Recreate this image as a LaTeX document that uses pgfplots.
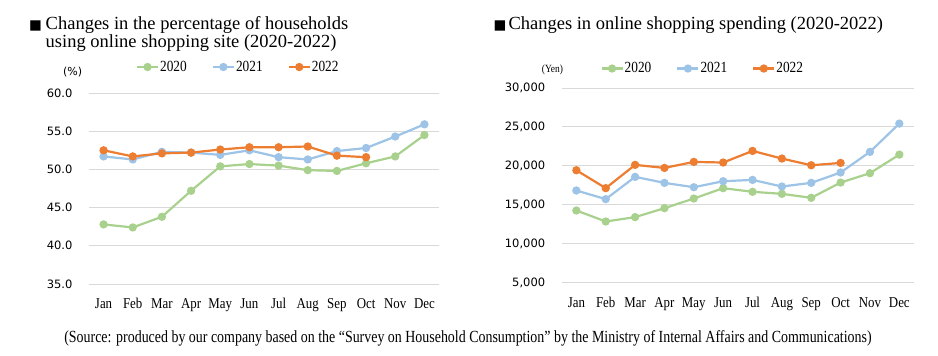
\documentclass[border=0pt]{standalone}
\usepackage{pgfplots}
\pgfplotsset{compat=1.18}
\usepackage{fontspec}
\setmainfont{Liberation Serif}
\newfontfamily\cond[FakeStretch=0.86]{Liberation Serif}
\newfontfamily\srccond[FakeStretch=0.82]{Liberation Serif}
\newfontfamily\dsans{DejaVu Sans}
\definecolor{cA}{RGB}{169,209,142}
\definecolor{cB}{RGB}{157,195,230}
\definecolor{cC}{RGB}{237,125,49}
\definecolor{gridgray}{RGB}{217,217,217}
\pgfplotsset{
  mychart/.style={
    scale only axis,
    axis line style={draw=none},
    major tick length=0pt,
    ymajorgrids, xmajorgrids=false,
    grid style={color=gridgray, line width=0.9pt},
    xmin=-0.5, xmax=11.5,
    xtick={0,...,11},
    xticklabels={Jan,Feb,Mar,Apr,May,Jun,Jul,Aug,Sep,Oct,Nov,Dec},
    xticklabel style={font=\cond\fontsize{15}{15}\selectfont, yshift=-11pt},
    yticklabel style={font=\dsans\fontsize{11.5}{11.5}\selectfont, xshift=-13pt},
    scaled y ticks=false,
    legend columns=3,
    legend style={draw=none, fill=none, anchor=west,
      font=\cond\fontsize{15.5}{15.5}\selectfont,
      /tikz/every even column/.append style={column sep=24pt},
      nodes={inner sep=1pt}},
    legend image code/.code={\draw[mark repeat=2,mark phase=2,#1] plot coordinates {(0pt,0pt)(10.5pt,0pt)(21pt,0pt)};},
  },
  s20/.style={color=cA, line width=2.2pt, mark=*, mark size=3pt, mark options={solid, fill=cA, draw=cA}},
  s21/.style={color=cB, line width=2.2pt, mark=*, mark size=3pt, mark options={solid, fill=cB, draw=cB}},
  s22/.style={color=cC, line width=2.2pt, mark=*, mark size=3pt, mark options={solid, fill=cC, draw=cC}},
}
\begin{document}
\begin{tikzpicture}
\useasboundingbox (0pt,0pt) rectangle (938pt,-356pt);
% left chart
\begin{axis}[mychart, at={(89pt,-284pt)}, anchor=south west,
  width=350pt, height=191pt, ymin=35, ymax=60,
  ytick={35,40,45,50,55,60},
  yticklabels={35.0,40.0,45.0,50.0,55.0,60.0},
  legend style={at={(0.125,1.136)}}]
\addplot[s20] coordinates {(0,42.8)(1,42.4)(2,43.8)(3,47.2)(4,50.4)(5,50.7)(6,50.5)(7,49.9)(8,49.8)(9,50.8)(10,51.7)(11,54.5)};
\addlegendentry{2020}
\addplot[s21] coordinates {(0,51.7)(1,51.3)(2,52.3)(3,52.2)(4,51.9)(5,52.5)(6,51.6)(7,51.3)(8,52.4)(9,52.8)(10,54.3)(11,55.9)};
\addlegendentry{2021}
\addplot[s22] coordinates {(0,52.5)(1,51.7)(2,52.1)(3,52.2)(4,52.6)(5,52.9)(6,52.9)(7,53.0)(8,51.8)(9,51.6)};
\addlegendentry{2022}
\end{axis}
% right chart
\begin{axis}[mychart, at={(561.7pt,-282.7pt)}, anchor=south west,
  width=352.3pt, height=194.7pt, ymin=5000, ymax=30000,
  ytick={5000,10000,15000,20000,25000,30000},
  yticklabels={{5,000},{10,000},{15,000},{20,000},{25,000},{30,000}},
  legend style={at={(0.101,1.10)}}]
\addplot[s20] coordinates {(0,14270)(1,12860)(2,13420)(3,14570)(4,15810)(5,17140)(6,16670)(7,16410)(8,15900)(9,17860)(10,19060)(11,21450)};
\addlegendentry{2020}
\addplot[s21] coordinates {(0,16840)(1,15730)(2,18590)(3,17820)(4,17260)(5,18030)(6,18200)(7,17350)(8,17820)(9,19150)(10,21800)(11,25430)};
\addlegendentry{2021}
\addplot[s22] coordinates {(0,19440)(1,17140)(2,20130)(3,19740)(4,20510)(5,20430)(6,21920)(7,20940)(8,20080)(9,20380)};
\addlegendentry{2022}
\end{axis}
% titles
\node[anchor=base west, inner sep=0pt] at (29pt,-29.3pt) {\dsans\fontsize{13.5}{13.5}\selectfont ■};
\node[anchor=base west, inner sep=0pt] at (45.5pt,-29.3pt) {\fontsize{18.5}{18.5}\selectfont Changes in the percentage of households};
\node[anchor=base west, inner sep=0pt] at (45.5pt,-47.3pt) {\fontsize{18.5}{18.5}\selectfont using online shopping site (2020-2022)};
\node[anchor=base west, inner sep=0pt] at (493.5pt,-29.3pt) {\dsans\fontsize{13.5}{13.5}\selectfont ■};
\node[anchor=base west, inner sep=0pt] at (508.3pt,-29.3pt) {\fontsize{18.5}{18.5}\selectfont Changes in online shopping spending (2020-2022)};
% units
\node[anchor=west, inner sep=0pt] at (63pt,-72pt) {\dsans\fontsize{11}{11}\selectfont (\%)};
\node[anchor=west, inner sep=0pt] at (541.7pt,-70pt) {\cond\fontsize{11}{11}\selectfont (Yen)};
% source
\node[anchor=base, inner sep=0pt] at (468pt,-342pt) {\srccond\fontsize{17}{17}\selectfont (Source: produced by our company based on the “Survey on Household Consumption” by the Ministry of Internal Affairs and Communications)};
\end{tikzpicture}
\end{document}
